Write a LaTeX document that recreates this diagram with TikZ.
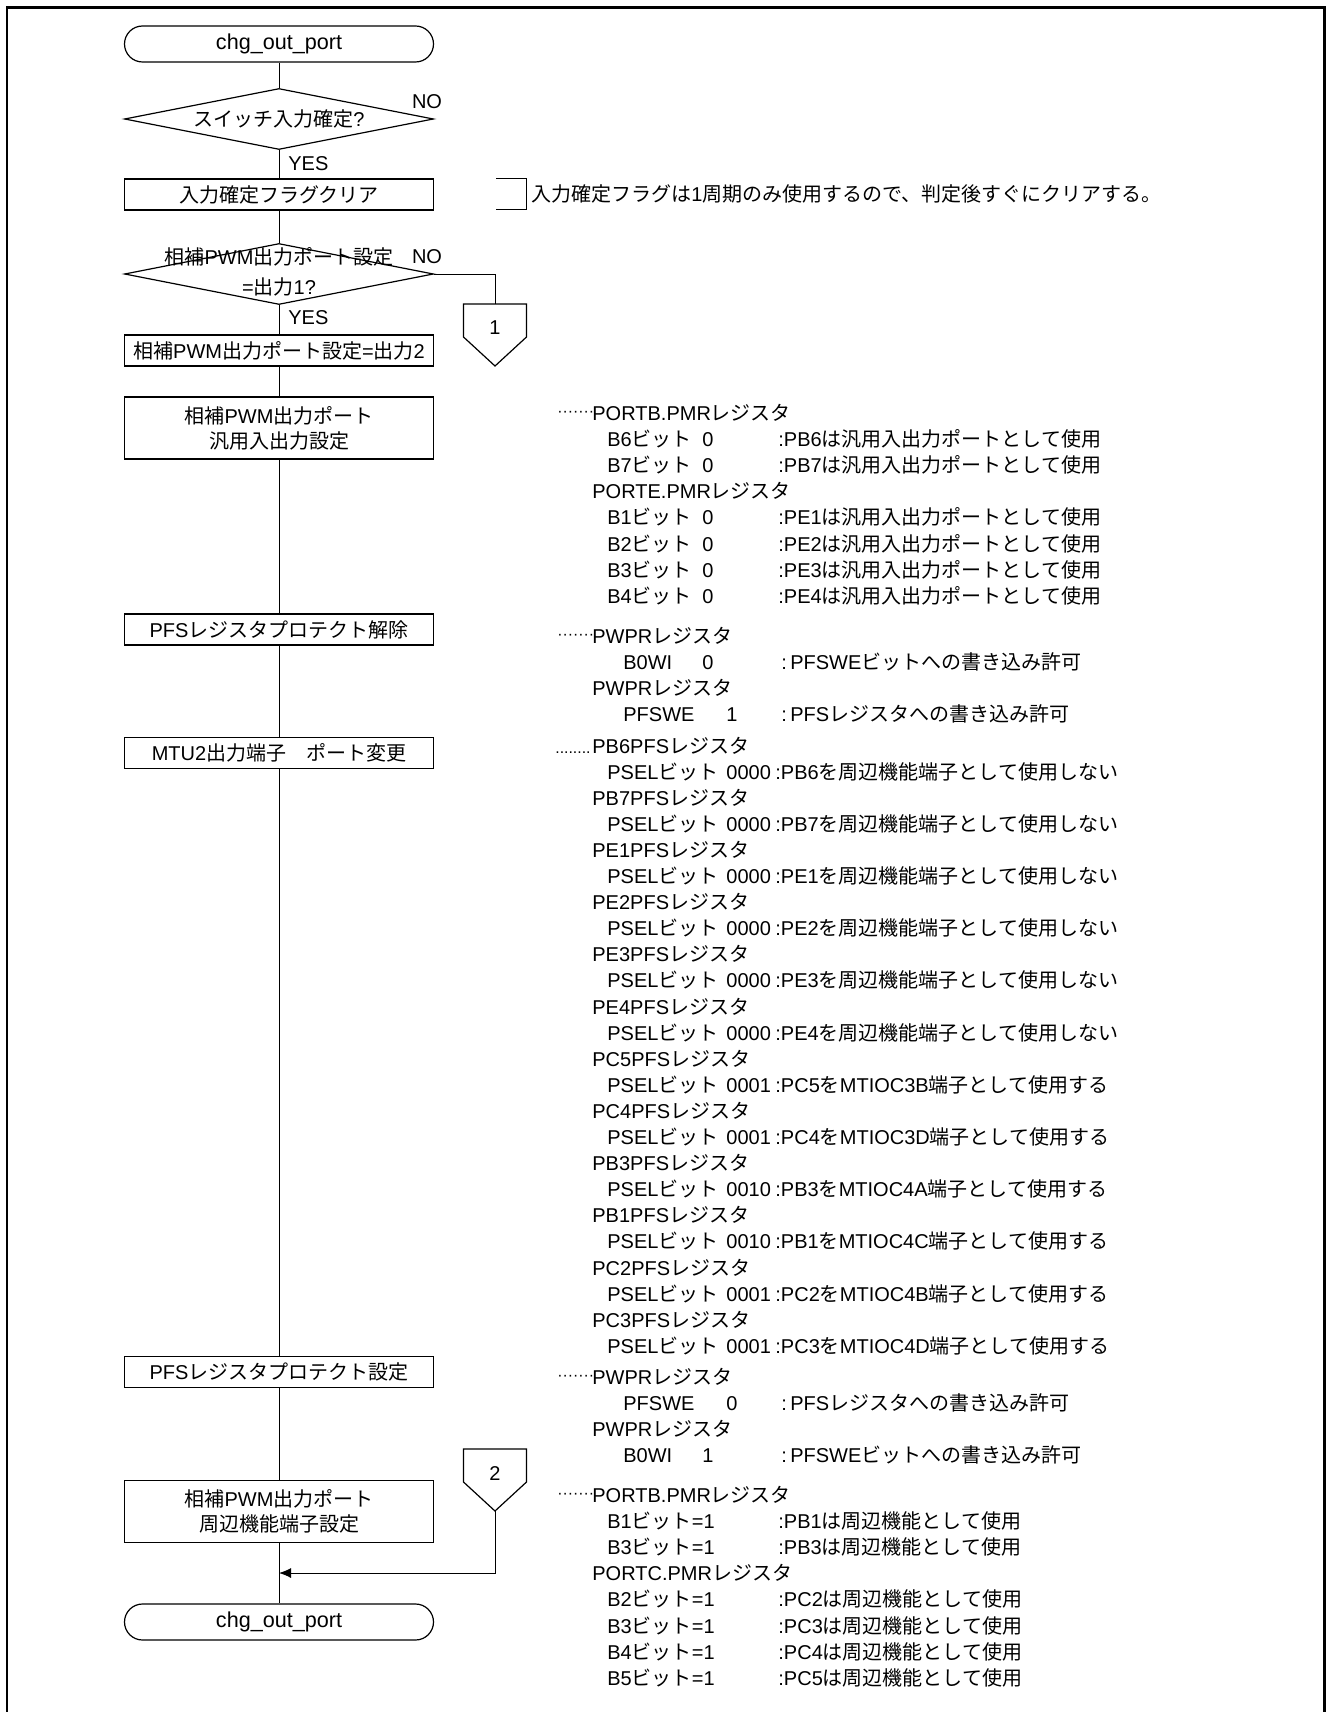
\documentclass[tikz,border=0pt]{standalone}
\usepackage{fontspec}
\setmainfont{Liberation Sans}
\newfontfamily\jafont{Noto Sans CJK JP}
% kana/kanji in Noto, the rest in Liberation Sans
\XeTeXinterchartokenstate=1
\newXeTeXintercharclass\jaclass
\newcount\jcode
\newcommand\setjarange[2]{\jcode=#1\relax
  \loop\XeTeXcharclass\jcode=\jaclass
  \ifnum\jcode<#2\advance\jcode by 1\repeat}
\setjarange{"3000}{"30FF}
\setjarange{"4E00}{"9FFF}
\setjarange{"FF00}{"FFEF}
\XeTeXinterchartoks 0 \jaclass = {\jafont}
\XeTeXinterchartoks 4095 \jaclass = {\jafont}
\XeTeXinterchartoks \jaclass 0 = {\rmfamily}
\XeTeXinterchartoks \jaclass 4095 = {\rmfamily}
\usetikzlibrary{shapes.geometric, arrows.meta}

\begin{document}
\begin{tikzpicture}[x=0.5pt, y=-0.5pt,
    every node/.style={font=\fontsize{10}{13}\selectfont},
    term/.style={draw, line width=0.6pt, rounded corners=9pt, minimum width=154.5pt, minimum height=18pt, inner sep=0pt, font=\fontsize{10.8}{13}\selectfont},
    proc/.style={draw, line width=0.6pt, minimum width=154.5pt, minimum height=15.5pt, inner sep=0pt, align=center},
    proc2/.style={proc, minimum height=31pt, font=\fontsize{10}{12.5}\selectfont},
    decide/.style={draw, line width=0.6pt, diamond, minimum width=154.5pt, minimum height=30.5pt, inner sep=0pt},
    note/.style={anchor=base west, inner sep=0pt},
    lead/.style={note, font=\fontsize{7.9}{9}\selectfont},
    flow/.style={line width=0.5pt}]
    \useasboundingbox (0,0) rectangle (1326,1712);
    \draw[line width=1.15pt] (6.7,1712) -- (6.7,7.5) -- (1324.5,7.5) -- (1324.5,1712);

    % main flow
    \node[term] (start) at (279,44) {chg\_out\_port};
    \node[decide] (d1) at (279,119) {};
    \node (d1txt) at (279,119) {スイッチ入力確定?};
    \node (no1) at (427,102) {NO};
    \node[anchor=west, inner sep=0pt] (yes1) at (288,164) {YES};
    \node[proc] (b1) at (279,194.5) {入力確定フラグクリア};
    \node[decide] (d2) at (279,274) {};
    \node[align=center, font=\fontsize{10}{15}\selectfont] (d2txt) at (279,272) {相補PWM出力ポート設定\\=出力1?};
    \node (no2) at (427,257) {NO};
    \node[anchor=west, inner sep=0pt] (yes2) at (288,318) {YES};
    \node[proc] (b2) at (279,350.5) {相補PWM出力ポート設定=出力2};
    \node[proc2] (b3) at (279,428) {相補PWM出力ポート\\汎用入出力設定};
    \node[proc] (b4) at (279,629.5) {PFSレジスタプロテクト解除};
    \node[proc] (b5) at (279,753) {MTU2出力端子　ポート変更};
    \node[proc] (b6) at (279,1372) {PFSレジスタプロテクト設定};
    \node[proc2] (b7) at (279,1511.5) {相補PWM出力ポート\\周辺機能端子設定};
    \node[term] (end) at (279,1622) {chg\_out\_port};
    \coordinate (join) at (279,1573);

    % off-page connectors
    \node (c1) at (495,328) {1};
    \draw[line width=0.6pt] (c1.center) ++(0,-24) coordinate (c1top) ++(-31.5,0) -- ++(63,0) -- ++(0,33) -- ++(-31.5,29) coordinate (c1tip) -- ++(-31.5,-29) -- cycle;
    \node (c2) at (495,1473) {2};
    \draw[line width=0.6pt] (c2.center) ++(0,-24) coordinate (c2top) ++(-31.5,0) -- ++(63,0) -- ++(0,33) -- ++(-31.5,29) coordinate (c2tip) -- ++(-31.5,-29) -- cycle;

    \draw[flow] (start) -- (d1);
    \draw[flow] (d1) -- (b1);
    \draw[flow] (b1) -- (d2);
    \draw[flow] (d2) -- (b2);
    \draw[flow] (b2) -- (b3);
    \draw[flow] (b3) -- (b4);
    \draw[flow] (b4) -- (b5);
    \draw[flow] (b5) -- (b6);
    \draw[flow] (b6) -- (b7);
    \draw[flow] (b7) -- (end);
    \draw[flow] (d2.east) -| (c1top);
    \draw[flow, -{Latex[length=6pt, width=5pt]}] (c2tip) |- (join);

    % memo beside b1
    \node[note] (memo) at (531,202) {入力確定フラグは1周期のみ使用するので、判定後すぐにクリアする。};
    \draw[flow] (496,179) -- (526,179) -- (526,210) -- (496,210);

    % PMR (general I/O)
    \node[lead] (lda) at (557,416) {·······};
    \node[note] (pmra) at (592,420) {PORTB.PMRレジスタ};
    \foreach \bitlab/\bitdesc [count=\i] in {B6ビット/:PB6は汎用入出力ポートとして使用, B7ビット/:PB7は汎用入出力ポートとして使用} {
        \node[note] (ab\i) at (607,{420+26.2*\i}) {\bitlab};
        \node[note] (av\i) at (702,{420+26.2*\i}) {0};
        \node[note] (ad\i) at (778,{420+26.2*\i}) {\bitdesc};
    }
    \node[note] (pmre) at (592,498.6) {PORTE.PMRレジスタ};
    \foreach \bitlab/\bitdesc [count=\i] in {B1ビット/:PE1は汎用入出力ポートとして使用, B2ビット/:PE2は汎用入出力ポートとして使用, B3ビット/:PE3は汎用入出力ポートとして使用, B4ビット/:PE4は汎用入出力ポートとして使用} {
        \node[note] (eb\i) at (607,{498.6+26.2*\i}) {\bitlab};
        \node[note] (ev\i) at (702,{498.6+26.2*\i}) {0};
        \node[note] (ed\i) at (778,{498.6+26.2*\i}) {\bitdesc};
    }

    % PWPR (unlock)
    \node[lead] (ldb) at (557,639) {·······};
    \node[note] (pwpr1) at (592,643) {PWPRレジスタ};
    \node[note] (bowi1) at (623,669.2) {B0WI};
    \node[note] (bowi1v) at (702,669.2) {0};
    \node[note] (bowi1d) at (781,669.2) {:\,PFSWEビットへの書き込み許可};
    \node[note] (pwpr2) at (592,695.4) {PWPRレジスタ};
    \node[note] (pfswe1) at (623,721.6) {PFSWE};
    \node[note] (pfswe1v) at (726,721.6) {1};
    \node[note] (pfswe1d) at (781,721.6) {:\,PFSレジスタへの書き込み許可};

    % PFS (pin function)
    \node[lead] (ldc) at (555,753) {........};
    \foreach \pin/\psel/\pindesc [count=\i from 0] in {
        PB6/0000/PB6を周辺機能端子として使用しない,
        PB7/0000/PB7を周辺機能端子として使用しない,
        PE1/0000/PE1を周辺機能端子として使用しない,
        PE2/0000/PE2を周辺機能端子として使用しない,
        PE3/0000/PE3を周辺機能端子として使用しない,
        PE4/0000/PE4を周辺機能端子として使用しない,
        PC5/0001/PC5をMTIOC3B端子として使用する,
        PC4/0001/PC4をMTIOC3D端子として使用する,
        PB3/0010/PB3をMTIOC4A端子として使用する,
        PB1/0010/PB1をMTIOC4C端子として使用する,
        PC2/0001/PC2をMTIOC4B端子として使用する,
        PC3/0001/PC3をMTIOC4D端子として使用する} {
        \node[note] (pfs\i) at (592,{753+52.2*\i}) {\pin PFSレジスタ};
        \node[note] (psel\i) at (607,{779.1+52.2*\i}) {PSELビット};
        \node[note] (pselv\i) at (726,{779.1+52.2*\i}) {\psel};
        \node[note] (pseld\i) at (775,{779.1+52.2*\i}) {:\pindesc};
    }

    % PWPR (lock)
    \node[lead] (ldd) at (557,1380) {·······};
    \node[note] (pwpr3) at (592,1384) {PWPRレジスタ};
    \node[note] (pfswe2) at (623,1410.2) {PFSWE};
    \node[note] (pfswe2v) at (726,1410.2) {0};
    \node[note] (pfswe2d) at (781,1410.2) {:\,PFSレジスタへの書き込み許可};
    \node[note] (pwpr4) at (592,1436.4) {PWPRレジスタ};
    \node[note] (bowi2) at (623,1462.6) {B0WI};
    \node[note] (bowi2v) at (702,1462.6) {1};
    \node[note] (bowi2d) at (781,1462.6) {:\,PFSWEビットへの書き込み許可};

    % PMR (peripheral)
    \node[lead] (lde) at (557,1498) {·······};
    \node[note] (pmrb2) at (592,1502) {PORTB.PMRレジスタ};
    \foreach \bitlab/\bitdesc [count=\i] in {B1ビット=1/:PB1は周辺機能として使用, B3ビット=1/:PB3は周辺機能として使用} {
        \node[note] (pb\i) at (607,{1502+26.2*\i}) {\bitlab};
        \node[note] (pd\i) at (778,{1502+26.2*\i}) {\bitdesc};
    }
    \node[note] (pmrc) at (592,1580.6) {PORTC.PMRレジスタ};
    \foreach \bitlab/\bitdesc [count=\i] in {B2ビット=1/:PC2は周辺機能として使用, B3ビット=1/:PC3は周辺機能として使用, B4ビット=1/:PC4は周辺機能として使用, B5ビット=1/:PC5は周辺機能として使用} {
        \node[note] (qb\i) at (607,{1580.6+26.2*\i}) {\bitlab};
        \node[note] (qd\i) at (778,{1580.6+26.2*\i}) {\bitdesc};
    }
\end{tikzpicture}
\end{document}
